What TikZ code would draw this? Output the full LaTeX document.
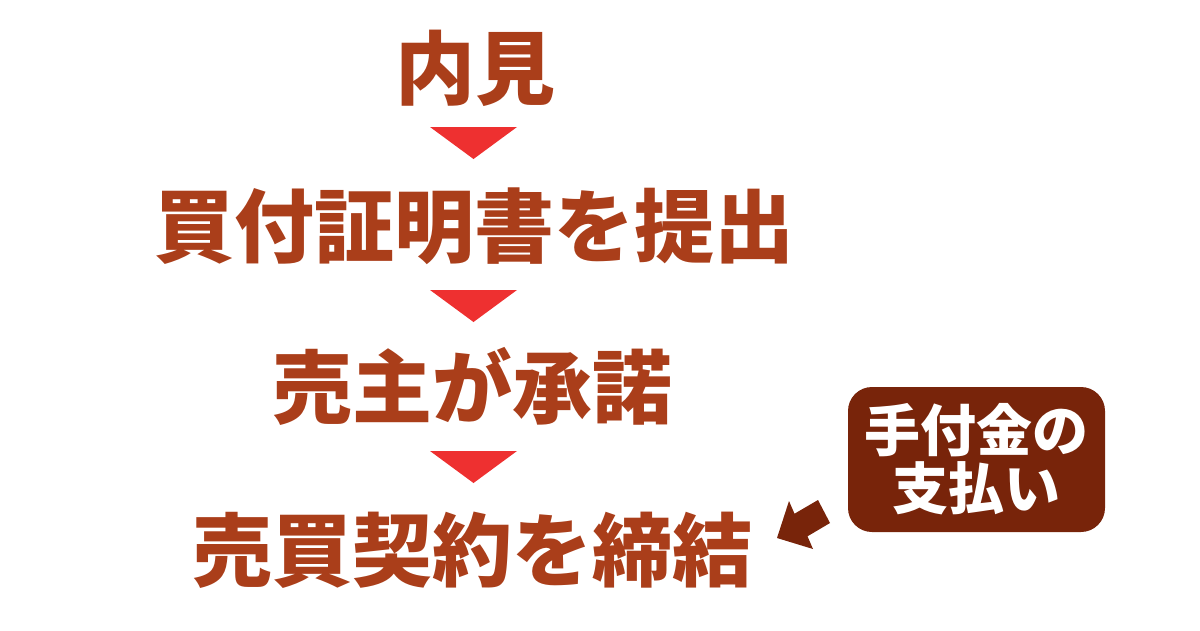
\documentclass[tikz,border=0pt]{standalone}
\usepackage{fontspec}
\newfontfamily\cjk{Noto Sans CJK JP}
\definecolor{rust}{RGB}{170,62,26}
\definecolor{badge}{RGB}{120,36,10}
\definecolor{tri}{RGB}{238,48,48}
\begin{document}
\begin{tikzpicture}[x=1pt,y=-1pt,
  step label/.style={inner sep=0pt, text=rust, font=\cjk\bfseries\fontsize{80}{80}\selectfont},
  down tri/.style={fill=tri},
  badgebox/.style={fill=badge, rounded corners=24pt, minimum width=257pt, minimum height=145pt, inner sep=0pt, align=center, text=white, font=\cjk\bfseries\fontsize{56}{60}\selectfont}]
\useasboundingbox (0,0) rectangle (1200,630);
\node[step label] (a) at (475,68) {内見};
\node[step label] (b) at (474,226) {買付証明書を提出};
\node[step label] (c) at (472,386) {売主が承諾};
\node[step label] (d) at (472,550) {売買契約を締結};
\foreach \y in {127,290,451}{
  \fill[tri] (430,\y) -- (517,\y) -- (473.5,\y+32) -- cycle;
}
\node[badgebox] (e) at (976.5,459.5) {手付金の\\[-2pt]支払い};
\fill[badge] (777,538) -- (813,549) -- (807.5,536.3) -- (830,523) -- (818,500) -- (794.5,513.7) -- (789,501) -- cycle;
\end{tikzpicture}
\end{document}
